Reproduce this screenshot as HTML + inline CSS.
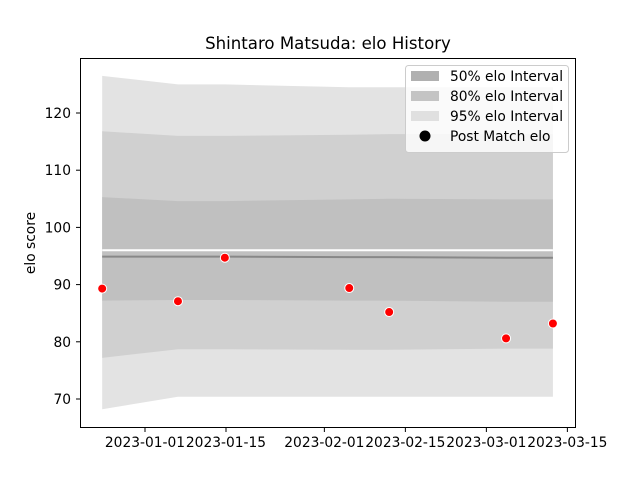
<!DOCTYPE html>
<html><head><meta charset="utf-8"><style>
body{margin:0;background:#fff;font-family:"Liberation Sans","DejaVu Sans",sans-serif}
svg text{font-family:"DejaVu Sans","Liberation Sans",sans-serif}
</style></head><body>
<svg id="c" width="640" height="480" xmlns="http://www.w3.org/2000/svg"></svg>
<script>
const dayOffsets=[-7.4,5.7,13.8,35.3,42.2,62.4,70.5];
const eloPoints=[89.3,87.1,94.7,89.4,85.2,80.6,83.2];
const mean=[94.9,94.9,94.9,94.8,94.8,94.7,94.7];
const upper50=[105.3,104.6,104.6,104.9,105.0,104.9,104.9];
const lower50=[87.2,87.3,87.3,87.2,87.2,87.0,87.0];
const upper80=[116.8,116.0,116.0,116.2,116.3,116.3,116.3];
const lower80=[77.2,78.7,78.7,78.6,78.6,78.8,78.8];
const upper95=[126.5,125.0,125.0,124.5,124.5,124.5,124.5];
const lower95=[68.2,70.4,70.4,70.4,70.4,70.4,70.4];
const refLine=[96.0,96.0,96.0,96.0,96.0,96.0,96.0];
const yTicks=[70,80,90,100,110,120];
const xTickDays=[0,14,31,45,59,73];
const xTickLabels=["2023-01-01","2023-01-15","2023-02-01","2023-02-15","2023-03-01","2023-03-15"];
const NS="http://www.w3.org/2000/svg",svg=document.getElementById('c');
const X=d=>145+d*5.786, Y=v=>399-(v-70)*5.72;
function mk(t,a,p){const e=document.createElementNS(NS,t);for(const k in a)e.setAttribute(k,a[k]);(p||svg).appendChild(e);return e;}
function band(up,lo,fill,name){
 let pts=dayOffsets.map((d,i)=>X(d)+','+Y(up[i]));
 pts=pts.concat(dayOffsets.map((d,i)=>X(d)+','+Y(lo[i])).reverse());
 const p=mk('polygon',{points:pts.join(' '),fill:fill});
 
 
}
band(upper95,lower95,'#e3e3e3','band-95');
band(upper80,lower80,'#d0d0d0','band-80');
band(upper50,lower50,'#c0c0c0','band-50');
function line(arr,stroke,w,name){
 const l=mk('polyline',{points:dayOffsets.map((d,i)=>X(d)+','+Y(arr[i])).join(' '),fill:'none',stroke:stroke,'stroke-width':w});
 
 
}
line(refLine,'#ffffff',2,'reference-line');
line(mean,'#888888',2,'mean-line');
dayOffsets.forEach((d,i)=>{
 const c=mk('circle',{cx:X(d),cy:Y(eloPoints[i]),r:4.5,fill:'#ff0000',stroke:'#fff','stroke-width':1});
 
 
});
const ax=mk('rect',{x:80.5,y:58.5,width:495,height:369,fill:'none',stroke:'#000','stroke-width':1});


yTicks.forEach(v=>{
 mk('line',{x1:76,x2:80,y1:Y(v),y2:Y(v),stroke:'#000'});
 const t=mk('text',{x:71,y:Y(v)+5,'text-anchor':'end','font-size':13.8});
 t.textContent=v;
 
 
});
xTickDays.forEach((d,i)=>{
 mk('line',{x1:X(d),x2:X(d),y1:428,y2:432,stroke:'#000'});
 const t=mk('text',{x:X(d),y:447,'text-anchor':'middle','font-size':13.8});
 t.textContent=xTickLabels[i];
 
 
});
const yt=mk('text',{x:35,y:243,'text-anchor':'middle','font-size':13.8,transform:'rotate(-90 35 243)'});
yt.textContent='elo score';


const tt=mk('text',{x:328,y:49,'text-anchor':'middle','font-size':16.6});
tt.textContent='Shintaro Matsuda: elo History';


const lg=mk('g',{});


mk('rect',{x:405.5,y:65.5,width:163,height:87,rx:3,fill:'#fff','fill-opacity':0.8,stroke:'#ccc'},lg);
const items=[['50% elo Interval','#b0b0b0'],['80% elo Interval','#c4c4c4'],['95% elo Interval','#e0e0e0'],['Post Match elo',null]];
items.forEach((it,i)=>{
 const y=76+i*20;
 if(it[1]) mk('rect',{x:411,y:y-5,width:28,height:10,fill:it[1]},lg);
 else mk('circle',{cx:425,cy:y,r:5.5,fill:'#000'},lg);
 const t=mk('text',{x:450,y:y+5,'font-size':13.8},lg);
 t.textContent=it[0];
 
 
});
</script>
</body></html>
